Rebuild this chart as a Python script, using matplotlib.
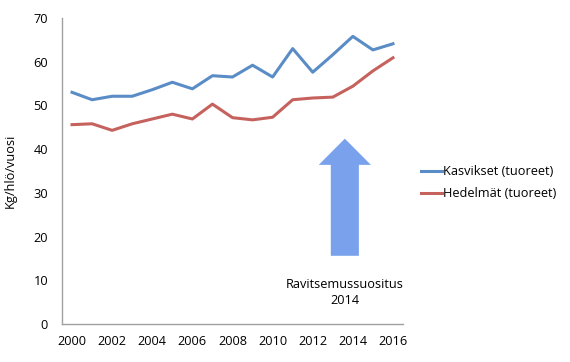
import matplotlib
matplotlib.use("Agg")
import matplotlib.pyplot as plt
from matplotlib.patches import FancyArrow

years = list(range(2000, 2017))
kasvikset = [53.0, 51.3, 52.1, 52.1, 53.6, 55.3, 53.8, 56.8, 56.5, 59.2, 56.5, 63.0, 57.6, 61.6, 65.8, 62.7, 64.1]
hedelmat = [45.6, 45.8, 44.3, 45.8, 46.9, 48.0, 46.9, 50.3, 47.2, 46.7, 47.3, 51.3, 51.7, 51.9, 54.4, 57.9, 60.9]
series_labels = ["Kasvikset (tuoreet)", "Hedelmät (tuoreet)"]
xticks = [2000, 2002, 2004, 2006, 2008, 2010, 2012, 2014, 2016]
yticks = [0, 10, 20, 30, 40, 50, 60, 70]
ylabel = "Kg/hlö/vuosi"
annot = "Ravitsemussuositus\n2014"

plt.rcParams['font.family'] = ['Open Sans', 'DejaVu Sans']

fig = plt.figure(figsize=(5.70, 3.62), dpi=100)
ax = fig.add_axes([62/570, 1-324/362, (403-62)/570, (324-18)/362])

ax.plot(years, kasvikset, color="#5A8CC6", lw=2.2, label=series_labels[0], solid_joinstyle="round")
ax.plot(years, hedelmat, color="#C6625E", lw=2.2, label=series_labels[1], solid_joinstyle="round")

ax.set_xlim(1999.5, 2016.5)
ax.set_ylim(0, 70)
ax.set_xticks(xticks)
ax.set_yticks(yticks)
ax.tick_params(axis="both", length=0, labelsize=9.2, colors="black")
ax.tick_params(axis="x", pad=8)
ax.tick_params(axis="y", pad=10)
for s in ["top", "right"]:
    ax.spines[s].set_visible(False)
for s in ["left", "bottom"]:
    ax.spines[s].set_color("#A0A0A0")
    ax.spines[s].set_linewidth(1.0)
ax.set_ylabel(ylabel, fontsize=9.2, labelpad=12)

arrow = FancyArrow(2013.6, 15.6, 0, 26.8, width=1.4, head_width=2.6, head_length=6.0,
                   length_includes_head=True, color="#7AA2EC", lw=0)
ax.add_patch(arrow)
ax.text(2013.6, 7.2, annot, ha="center", va="center", fontsize=9.2, linespacing=1.3)

leg = ax.legend(loc="center left", bbox_to_anchor=(1.02, 0.462), frameon=False,
                fontsize=9.2, handlelength=1.6, handletextpad=0.1, labelspacing=0.72)

fig.savefig("out.png", dpi=100)
